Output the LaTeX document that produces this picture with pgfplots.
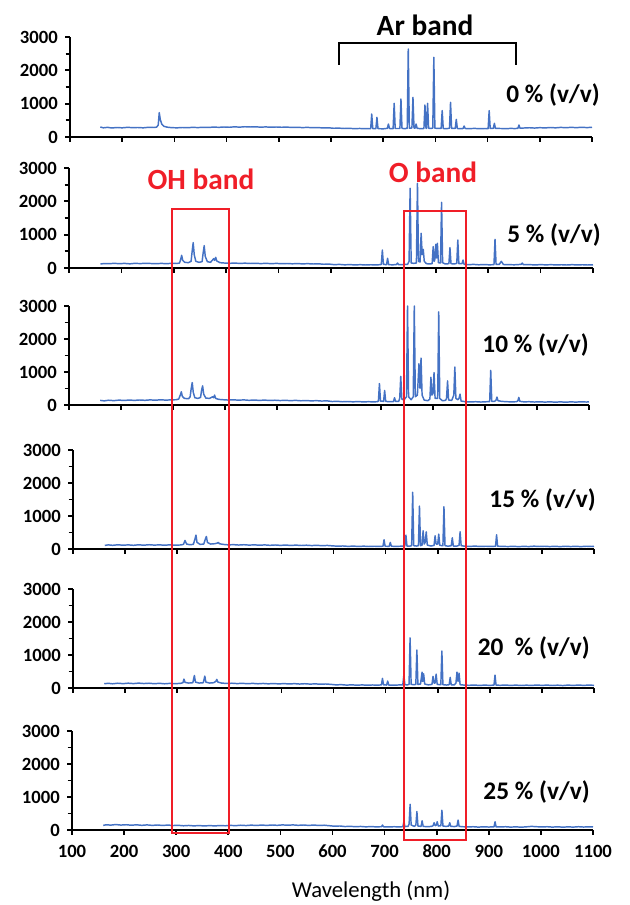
\documentclass[border=0pt]{standalone}
\usepackage{pgfplots}
\pgfplotsset{compat=1.18}
\usepackage{fontspec}
\setmainfont{Carlito}
\definecolor{specblue}{RGB}{68,114,196}
\definecolor{bandred}{RGB}{240,30,40}
\pgfplotsset{
  panel/.style={
    scale only axis, anchor=south west,
    xmin=100, xmax=1100, ymin=0, ymax=3000,
    axis x line*=bottom, axis y line*=left,
    axis line style={line width=1.5pt,-},
    every tick/.style={black,line width=1.3pt},
    tick align=outside,
    major tick length=3.6pt, minor tick length=3.2pt,
    xtick={100,200,...,1100}, xticklabels={},
    ytick={0,1000,2000,3000}, yticklabels={0,1000,2000,3000},
    minor ytick={500,1500,2500},
    /pgf/number format/assume math mode=true,
    yticklabel style={font=\fontsize{14}{14}\selectfont\bfseries, xshift=-2pt},
    clip=false,
  },
  spec/.style={color=specblue, line width=1.1pt, no markers, line join=round},
}
\begin{document}
\begin{tikzpicture}
\path[use as bounding box] (0,0) rectangle (472.5pt,-678.75pt);
% Panel 1 (0 %)
\begin{axis}[panel, at={(70*0.75pt,-137*0.75pt)}, width=522*0.75pt, height=100*0.75pt]
\addplot[spec] coordinates {(158,300)(164,275)(172,290)(180,270)(190,285)(200,275)(210,290)(220,280)(230,285)(240,275)(250,290)(260,285)(266,295)(269,360)(271,730)(273,520)(276,380)(280,320)(286,295)(295,280)(305,275)(315,285)(325,278)(335,290)(345,282)(355,292)(365,285)(375,298)(385,290)(395,300)(405,292)(415,305)(425,296)(435,308)(445,300)(455,305)(465,296)(475,302)(485,294)(495,300)(505,292)(515,296)(525,288)(535,292)(545,282)(555,288)(565,278)(575,282)(585,272)(595,276)(605,262)(615,266)(625,255)(635,260)(645,250)(655,256)(665,248)(672,252)(676,250)(678,690)(680,250)(686,250)(688,590)(690,250)(700,245)(708,260)(710,390)(712,255)(719,250)(721,1010)(723,255)(732,255)(734,1140)(736,260)(741,250)(746,260)(748,2640)(750,265)(755,270)(757,1190)(759,270)(761,265)(763,390)(765,260)(772,250)(778,255)(780,960)(782,260)(783,260)(785,1010)(787,260)(792,255)(795,270)(797,2390)(799,265)(806,255)(811,260)(813,790)(815,255)(822,250)(827,265)(829,1040)(831,260)(838,255)(840,530)(842,255)(848,250)(853,255)(855,330)(857,255)(865,250)(875,258)(885,248)(895,255)(901,250)(903,790)(905,255)(911,260)(913,410)(915,258)(925,255)(935,250)(945,258)(952,252)(958,260)(960,360)(962,265)(970,270)(980,278)(990,268)(1000,280)(1010,272)(1020,285)(1030,275)(1040,288)(1050,278)(1060,290)(1070,280)(1080,292)(1090,282)(1100,290)};
\end{axis}
% Panel 2 (5 %)
\begin{axis}[panel, at={(69*0.75pt,-268*0.75pt)}, width=524*0.75pt, height=100*0.75pt]
\addplot[spec] coordinates {(160,120)(168,135)(176,128)(186,140)(196,130)(206,138)(216,125)(226,140)(236,132)(246,142)(256,135)(266,128)(276,138)(286,130)(296,140)(306,135)(311,150)(313,250)(315,380)(317,230)(321,170)(328,160)(333,200)(335,500)(337,760)(339,400)(342,200)(348,170)(354,190)(356,450)(358,670)(360,350)(364,190)(370,170)(374,240)(376,280)(378,230)(380,320)(382,210)(388,160)(396,150)(406,140)(416,148)(426,138)(436,145)(446,135)(456,142)(466,132)(476,140)(486,130)(496,138)(506,128)(516,135)(526,126)(536,132)(546,124)(556,130)(566,120)(576,126)(586,112)(596,118)(606,100)(616,108)(626,95)(636,102)(646,92)(656,100)(666,90)(676,98)(686,92)(694,100)(696,110)(698,540)(700,110)(706,100)(708,290)(710,100)(718,95)(725,105)(727,150)(729,100)(740,105)(746,110)(749,200)(751,2390)(753,150)(758,140)(763,150)(765,2540)(767,200)(770,180)(772,1040)(774,400)(776,560)(778,200)(782,130)(788,120)(793,130)(795,640)(797,200)(798,250)(800,710)(801,300)(803,740)(805,160)(809,150)(811,1970)(813,160)(818,120)(825,130)(827,610)(829,130)(835,120)(840,140)(842,840)(844,130)(850,130)(852,240)(854,110)(862,100)(872,108)(882,96)(892,104)(902,95)(911,100)(913,860)(915,110)(921,105)(925,200)(929,105)(940,100)(950,96)(958,104)(963,110)(965,150)(967,100)(980,100)(990,92)(1000,102)(1010,94)(1020,100)(1030,92)(1040,98)(1050,90)(1060,100)(1070,92)(1080,98)(1090,90)(1100,96)};
\end{axis}
% Panel 3 (10 %)
\begin{axis}[panel, at={(69*0.75pt,-405*0.75pt)}, width=520*0.75pt, height=99*0.75pt]
\addplot[spec] coordinates {(160,140)(168,125)(176,145)(186,132)(196,148)(206,138)(216,150)(226,140)(236,152)(246,142)(256,155)(266,145)(276,158)(286,148)(296,155)(306,160)(311,180)(314,300)(316,400)(318,260)(322,200)(330,190)(333,250)(335,500)(337,680)(339,380)(342,220)(348,200)(353,230)(355,450)(357,580)(359,330)(363,210)(370,200)(374,230)(376,250)(378,220)(380,300)(382,200)(388,170)(396,160)(406,150)(416,158)(426,146)(436,155)(446,142)(456,150)(466,140)(476,148)(486,138)(496,145)(506,135)(516,142)(526,132)(536,140)(546,128)(556,135)(566,125)(576,132)(586,120)(596,126)(606,105)(616,112)(626,98)(636,106)(646,96)(656,104)(666,94)(676,100)(685,95)(693,100)(695,120)(697,650)(699,120)(705,110)(707,440)(709,110)(716,100)(724,105)(726,220)(728,110)(734,110)(736,200)(738,870)(740,180)(744,150)(749,250)(751,3000)(753,250)(758,160)(762,250)(764,3000)(766,250)(770,300)(773,1250)(775,500)(777,1420)(779,300)(783,150)(790,130)(794,180)(796,840)(798,300)(800,350)(802,980)(804,200)(809,200)(811,2820)(813,200)(818,130)(824,140)(826,200)(828,730)(830,150)(836,140)(840,300)(842,1150)(844,200)(848,160)(850,200)(852,330)(854,120)(862,100)(872,92)(882,100)(892,90)(902,98)(909,105)(911,1050)(913,110)(918,110)(921,140)(923,240)(925,130)(932,110)(942,100)(952,94)(960,100)(963,120)(965,230)(967,110)(975,95)(985,100)(995,90)(1005,98)(1015,88)(1025,96)(1035,86)(1045,95)(1055,85)(1065,95)(1075,88)(1085,98)(1095,90)(1100,95)};
\end{axis}
% Panel 4 (15 %)
\begin{axis}[panel, at={(73*0.75pt,-549*0.75pt)}, width=521*0.75pt, height=99*0.75pt]
\addplot[spec] coordinates {(161,110)(168,125)(176,112)(186,128)(196,115)(206,125)(216,112)(226,128)(236,115)(246,130)(256,118)(266,126)(276,114)(286,128)(296,116)(306,122)(312,140)(315,260)(318,150)(324,130)(331,140)(334,300)(336,420)(338,200)(344,140)(351,150)(354,300)(356,380)(358,200)(364,150)(372,160)(377,180)(379,200)(381,160)(388,140)(398,125)(408,132)(418,120)(428,130)(438,118)(448,126)(458,115)(468,124)(478,112)(488,122)(498,110)(508,120)(518,108)(528,118)(538,106)(548,115)(558,104)(568,112)(578,100)(588,108)(598,95)(608,85)(618,92)(628,80)(638,88)(648,78)(658,86)(668,76)(678,84)(688,78)(695,85)(697,280)(699,85)(707,80)(709,200)(711,85)(720,80)(730,85)(737,90)(739,420)(741,90)(746,85)(750,100)(752,1720)(754,100)(759,90)(763,100)(765,1300)(767,100)(770,120)(772,550)(774,150)(776,200)(778,520)(780,120)(787,90)(793,110)(795,400)(797,150)(800,150)(802,450)(804,110)(810,100)(812,1280)(814,100)(820,85)(826,100)(828,340)(830,90)(837,90)(841,110)(843,520)(845,100)(852,85)(862,80)(872,88)(882,76)(892,84)(902,78)(911,85)(913,430)(915,85)(925,80)(935,74)(945,82)(955,72)(965,80)(975,74)(985,86)(995,76)(1005,84)(1015,74)(1025,82)(1035,72)(1045,84)(1055,74)(1065,82)(1075,72)(1085,84)(1095,76)(1100,82)};
\end{axis}
% Panel 5 (20 %)
\begin{axis}[panel, at={(73*0.75pt,-688*0.75pt)}, width=521*0.75pt, height=99*0.75pt]
\addplot[spec] coordinates {(160,130)(168,142)(176,128)(186,145)(196,132)(206,146)(216,134)(226,148)(236,135)(246,145)(256,130)(266,142)(276,128)(286,140)(296,132)(306,140)(311,160)(313,270)(315,170)(322,150)(330,160)(333,380)(335,180)(342,150)(350,160)(353,360)(355,180)(362,150)(370,160)(374,200)(376,260)(378,180)(385,150)(395,138)(405,145)(415,134)(425,142)(435,130)(445,140)(455,128)(465,138)(475,126)(485,136)(495,124)(505,134)(515,122)(525,132)(535,120)(545,130)(555,118)(565,126)(575,114)(585,122)(595,110)(605,95)(615,102)(625,88)(635,96)(645,85)(655,94)(665,84)(675,92)(685,86)(692,95)(694,290)(696,95)(702,90)(704,210)(706,90)(715,85)(725,92)(733,95)(735,390)(737,100)(742,95)(745,110)(747,1520)(749,110)(755,100)(758,110)(760,1150)(762,110)(767,120)(770,480)(771,200)(773,430)(775,120)(782,95)(789,110)(791,350)(793,150)(795,150)(797,420)(799,110)(806,100)(808,1120)(810,100)(817,90)(822,100)(824,320)(826,95)(832,95)(835,150)(837,480)(839,200)(841,450)(843,100)(850,90)(860,82)(870,90)(880,78)(890,88)(900,80)(908,88)(910,390)(912,88)(920,82)(930,90)(940,78)(950,88)(960,76)(970,86)(980,78)(990,90)(1000,80)(1010,88)(1020,76)(1030,86)(1040,74)(1050,88)(1060,78)(1070,90)(1080,80)(1090,88)(1100,82)};
\end{axis}
% Panel 6 (25 %)
\begin{axis}[panel, at={(72*0.75pt,-830*0.75pt)}, width=521*0.75pt, height=99*0.75pt,
  xticklabels={100,200,300,400,500,600,700,800,900,1000,1100},
  xticklabel style={font=\fontsize{14}{14}\selectfont\bfseries, yshift=-4pt},
  xlabel={Wavelength (nm)},
  xlabel style={font=\fontsize{17}{17}\selectfont, at={(axis description cs:0.574,-0.62)}, anchor=center}]
\addplot[spec] coordinates {(160,140)(166,160)(174,148)(184,165)(194,150)(204,160)(214,145)(224,158)(234,142)(244,155)(254,140)(264,152)(274,138)(284,150)(294,136)(304,142)(314,128)(324,138)(334,125)(344,135)(354,122)(364,134)(374,124)(384,136)(394,128)(404,140)(414,132)(424,145)(434,135)(444,148)(454,138)(464,150)(474,140)(484,152)(494,142)(504,155)(514,145)(524,155)(534,142)(544,152)(554,140)(564,150)(574,138)(584,145)(594,130)(604,115)(614,122)(624,105)(634,112)(644,100)(654,108)(664,96)(674,104)(684,95)(694,100)(696,150)(698,98)(708,92)(718,100)(728,95)(735,100)(737,250)(739,105)(745,110)(747,180)(749,780)(751,150)(757,110)(760,150)(762,560)(764,120)(770,110)(772,280)(774,110)(782,100)(790,110)(793,130)(795,220)(797,130)(799,140)(801,250)(803,120)(808,130)(810,600)(812,120)(818,110)(823,120)(825,220)(827,110)(834,105)(839,120)(841,300)(843,110)(850,100)(860,92)(870,100)(880,88)(890,98)(900,90)(910,98)(912,250)(914,95)(922,92)(932,100)(942,88)(952,96)(962,86)(972,96)(982,110)(992,100)(1002,92)(1012,100)(1022,88)(1032,98)(1042,86)(1052,96)(1062,88)(1072,100)(1082,90)(1092,98)(1100,92)};
\end{axis}
% annotations
\draw[line width=1.5pt] (339*0.75pt,-65*0.75pt) -- (339*0.75pt,-43*0.75pt) -- (516*0.75pt,-43*0.75pt) -- (516*0.75pt,-65*0.75pt);
\node[anchor=base, inner sep=0pt, font=\fontsize{22}{22}\selectfont\bfseries] at (425*0.75pt,-36*0.75pt) {Ar band};
\node[anchor=base, inner sep=0pt, text=bandred, font=\fontsize{22}{22}\selectfont\bfseries] at (201*0.75pt,-190*0.75pt) {OH band};
\node[anchor=base, inner sep=0pt, text=bandred, font=\fontsize{22}{22}\selectfont\bfseries] at (433*0.75pt,-183*0.75pt) {O band};
\draw[bandred, line width=1.2pt] (172*0.75pt,-209*0.75pt) rectangle (229*0.75pt,-833*0.75pt);
\draw[bandred, line width=1.2pt] (404*0.75pt,-211*0.75pt) rectangle (466*0.75pt,-840*0.75pt);
\begin{scope}[every node/.style={anchor=east, inner sep=0pt, font=\fontsize{19}{19}\selectfont\bfseries}]
\node at (600*0.75pt,-95*0.75pt) {0 \% (v/v)};
\node at (601*0.75pt,-235*0.75pt) {5 \% (v/v)};
\node at (589*0.75pt,-345*0.75pt) {10 \% (v/v)};
\node at (596*0.75pt,-500*0.75pt) {15 \% (v/v)};
\node at (590*0.75pt,-648*0.75pt) {20\ \ \% (v/v)};
\node at (590*0.75pt,-792*0.75pt) {25 \% (v/v)};
\end{scope}
\end{tikzpicture}
\end{document}
